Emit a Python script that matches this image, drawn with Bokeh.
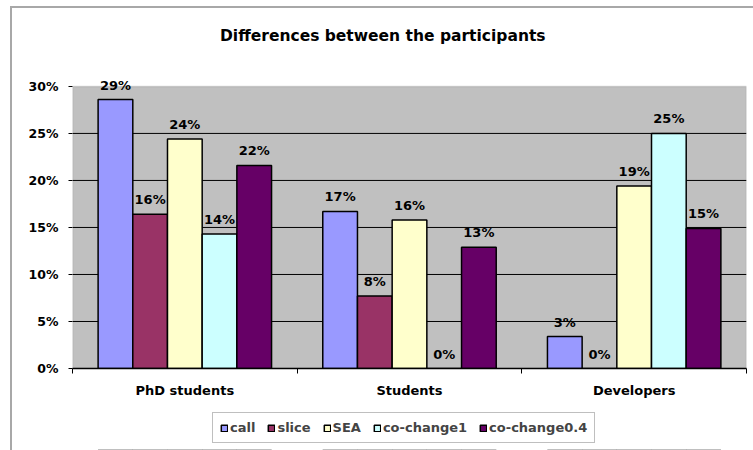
from bokeh.plotting import figure
from bokeh.layouts import column
from bokeh.models import (Range1d, FixedTicker, NumeralTickFormatter, BoxAnnotation, Span,
                          ColumnDataSource, LabelSet, Legend, LegendItem, Div)
from bokeh.core.properties import value
from bokeh.embed import file_html
from bokeh.resources import INLINE

title = "Differences between the participants"
categories = ["PhD students", "Students", "Developers"]
series = ["call", "slice", "SEA", "co-change1", "co-change0.4"]
call = [0.286, 0.167, 0.034]
slice_ = [0.164, 0.077, 0.0]
sea = [0.244, 0.158, 0.194]
cochange1 = [0.143, 0.0, 0.250]
cochange04 = [0.216, 0.129, 0.149]
values = [call, slice_, sea, cochange1, cochange04]
colors = ["#9999FF", "#993366", "#FFFFCC", "#CCFFFF", "#660066"]
y_ticks = [0.0, 0.05, 0.10, 0.15, 0.20, 0.25, 0.30]
y_max = 0.30

FONT = "DejaVu Sans"
GRAY = "#8c8c8c"

title_div = Div(
    text=('<div style="padding:18px 0 0 208px; font-family:\'DejaVu Sans\'; font-weight:bold; '
          'font-size:15.5px; line-height:20px; white-space:nowrap; color:black">'
          + title + '</div>'),
    width=741, height=41, margin=0)

p = figure(width=741, height=351, x_range=Range1d(0, 3), y_range=Range1d(0, 0.318),
           output_backend="svg", toolbar_location=None,
           min_border_left=60, min_border_right=7, min_border_top=20, min_border_bottom=31,
           margin=0)
p.background_fill_color = "white"
p.border_fill_color = "white"
p.outline_line_color = None

# plot area (gray box up to 30%)
p.add_layout(BoxAnnotation(bottom=0, top=y_max, fill_color="#C0C0C0", fill_alpha=1,
                           line_color=GRAY, line_width=1.5, level="underlay"))
p.xgrid.visible = False
p.ygrid.visible = False
for t in y_ticks[1:-1]:
    p.add_layout(Span(location=t, dimension="width", line_color="black", line_width=1,
                      level="underlay"))

p.yaxis.ticker = FixedTicker(ticks=y_ticks, minor_ticks=[])
p.yaxis.formatter = NumeralTickFormatter(format="0%")
p.yaxis.axis_line_color = None
p.yaxis.major_tick_out = 4
p.yaxis.major_tick_in = 0
p.yaxis.major_tick_line_color = "black"
p.yaxis.minor_tick_line_color = None
p.yaxis.major_label_standoff = 10

p.xaxis.ticker = FixedTicker(ticks=[i + 0.5 for i in range(len(categories))],
                             minor_ticks=list(range(len(categories) + 1)))
p.xaxis.major_label_overrides = {i + 0.5: c for i, c in enumerate(categories)}
p.xaxis.major_tick_out = 0
p.xaxis.major_tick_in = 0
p.xaxis.minor_tick_out = 5
p.xaxis.minor_tick_in = 0
p.xaxis.minor_tick_line_color = "black"
p.xaxis.axis_line_color = "black"
p.xaxis.axis_line_width = 1.5
p.xaxis.major_label_standoff = 9

p.yaxis.major_label_text_font_size = "12.5px"
p.xaxis.major_label_text_font_size = "13px"
for ax in (p.xaxis, p.yaxis):
    ax.major_label_text_font = FONT
    ax.major_label_text_font_style = "bold"
    ax.major_label_text_color = "black"

# legend strip: same bars drawn far outside its visible y window, only the legend shows
lg = figure(width=741, height=50, x_range=Range1d(0, 3), y_range=Range1d(10, 11),
            output_backend="svg", toolbar_location=None, min_border=0, margin=0,
            x_axis_location=None, y_axis_location=None)
lg.outline_line_color = None
lg.xgrid.visible = False
lg.ygrid.visible = False
lg.background_fill_color = "white"
lg.border_fill_color = "white"

bw = 0.772 / len(series)
items = []
for j, (name, vals, col) in enumerate(zip(series, values, colors)):
    xs = [i + 0.5 + (j - (len(series) - 1) / 2) * bw for i in range(len(categories))]
    src = ColumnDataSource(dict(x=xs, top=vals, label=["{:.0%}".format(v) for v in vals]))
    p.vbar(x="x", top="top", width=bw, source=src, fill_color=col,
           line_color="black", line_width=1.5)
    p.add_layout(LabelSet(x="x", y="top", text="label", source=src, text_align="center",
                          text_baseline="bottom", y_offset=7, text_font=value(FONT),
                          text_font_size=value("13px"), text_font_style="bold",
                          text_color="black"))
    r2 = lg.vbar(x="x", top="top", width=bw, source=src, fill_color=col,
                 line_color="black", line_width=1.5)
    items.append(LegendItem(label=name, renderers=[r2]))

legend = Legend(items=items, orientation="horizontal", location=(140, 7))
legend.label_text_font = FONT
legend.label_text_font_style = "bold"
legend.label_text_font_size = "13px"
legend.glyph_width = 8
legend.glyph_height = 8
legend.label_height = 14
legend.label_standoff = 2
legend.spacing = 12
legend.padding = 7
legend.margin = 0
legend.border_line_color = "#808080"
legend.border_line_width = 1
legend.background_fill_color = "white"
lg.add_layout(legend, "center")

layout = column(title_div, p, lg, margin=(6, 0, 0, 10), spacing=0,
                styles={"border-left": "2px solid #a8a8a8", "border-top": "2px solid #a8a8a8"})

open("out.html", "w").write(file_html(layout, INLINE))
